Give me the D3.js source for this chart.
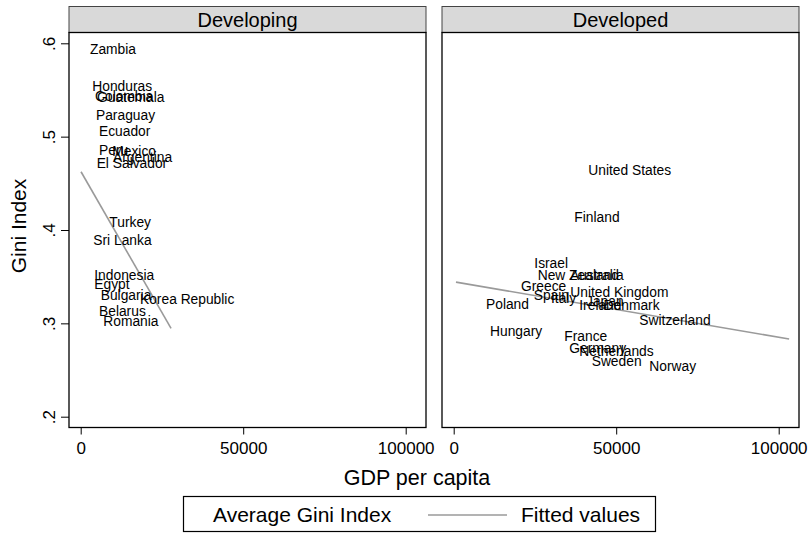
<!DOCTYPE html>
<html>
<head>
<meta charset="utf-8">
<script src="https://cdn.jsdelivr.net/npm/d3@7"></script>
<style>
  html, body { margin: 0; padding: 0; background: #ffffff; }
  svg { display: block; }
  text { font-family: "Liberation Sans", Arial, sans-serif; fill: #000; }
</style>
</head>
<body>
<svg id="chart" width="808" height="535"></svg>
<script>
// Developing countries: GDP per capita and average Gini index
const developingCountries = ["Zambia", "Honduras", "Colombia", "Guatemala", "Paraguay", "Ecuador", "Peru", "Mexico", "Argentina", "El Salvador", "Turkey", "Sri Lanka", "Indonesia", "Egypt", "Bulgaria", "Korea Republic", "Belarus", "Romania"];
const developingGdp = [1940, 2650, 3480, 4090, 3780, 4710, 4710, 8800, 9020, 3990, 7880, 2950, 3260, 3260, 5230, 17320, 4710, 6030];
const developingGini = [0.594, 0.5537, 0.543, 0.542, 0.5226, 0.5057, 0.486, 0.4846, 0.4782, 0.4714, 0.4085, 0.3887, 0.3512, 0.3421, 0.330, 0.3257, 0.3129, 0.3025];

// Developed countries
const developedCountries = ["United States", "Finland", "Israel", "New Zealand", "Australia", "Greece", "United Kingdom", "Spain", "Italy", "Poland", "Japan", "Ireland", "Denmark", "Switzerland", "Hungary", "France", "Germany", "Netherlands", "Sweden", "Norway"];
const developedGdp = [40490, 36190, 23880, 24920, 34860, 19780, 34950, 23690, 29010, 9020, 39780, 37720, 45200, 56190, 10250, 33110, 34650, 37720, 41540, 59260];
const developedGini = [0.4642, 0.4136, 0.3643, 0.3514, 0.3514, 0.3396, 0.3333, 0.330, 0.327, 0.3207, 0.324, 0.3193, 0.3193, 0.3035, 0.2914, 0.2858, 0.2735, 0.270, 0.2591, 0.2537];

// Linear fit endpoints per group
const developingFitGdp = [100, 27800];
const developingFitGini = [0.4624, 0.2946];
const developedFitGdp = [700, 103200];
const developedFitGini = [0.3442, 0.2832];

// Axis ticks and text
const yTicks = [0.2, 0.3, 0.4, 0.5, 0.6];
const xTicks = [0, 50000, 100000];
const panelTitles = ["Developing", "Developed"];
const xTitle = "GDP per capita";
const yTitle = "Gini Index";
const legendLabels = ["Average Gini Index", "Fitted values"];

const svg = d3.select("#chart");
const font = '"Liberation Sans", Arial, sans-serif';

const plotTop = 32.5, plotBottom = 427.5;
const panels = [
  { title: panelTitles[0], left: 69, right: 426, names: developingCountries, gdp: developingGdp, gini: developingGini, fitX: developingFitGdp, fitY: developingFitGini },
  { title: panelTitles[1], left: 442, right: 799, names: developedCountries, gdp: developedGdp, gini: developedGini, fitX: developedFitGdp, fitY: developedFitGini }
];

// shared y scale: .6 at 43.3, .2 at 416.7
const y = d3.scaleLinear().domain([0.2, 0.6]).range([416.7, 43.3]);

panels.forEach((p, i) => {
  // x scale: 0 sits 11.7px inside the panel, 100000 is 325px further right
  const x = d3.scaleLinear().domain([0, 100000]).range([p.left + 11.7, p.left + 336.7]);
  const g = svg.append("g");

  // strip header
  g.append("rect")
    .attr("x", p.left).attr("y", 6.5)
    .attr("width", p.right - p.left).attr("height", plotTop - 6.5)
    .attr("fill", "#d9d9d9").attr("stroke", "#444").attr("stroke-width", 1);
  g.append("text")
    .attr("x", (p.left + p.right) / 2).attr("y", 19.5)
    .attr("dy", "0.35em")
    .attr("text-anchor", "middle")
    .style("font-size", "20px")
    .text(p.title);

  // plot frame
  g.append("rect")
    .attr("x", p.left).attr("y", plotTop)
    .attr("width", p.right - p.left).attr("height", plotBottom - plotTop)
    .attr("fill", "#fff").attr("stroke", "#000").attr("stroke-width", 1.3);

  // x axis
  const xAxis = d3.axisBottom(x).tickValues(xTicks).tickFormat(d3.format("d")).tickSize(7).tickPadding(7);
  const xa = g.append("g").attr("transform", `translate(0,${plotBottom})`).call(xAxis);
  xa.select(".domain").remove();
  xa.selectAll(".tick line").attr("stroke", "#000").attr("stroke-width", 1);
  xa.selectAll(".tick text").style("font-family", font).style("font-size", "17px").attr("fill", "#000");

  // y axis on the first panel only
  if (i === 0) {
    const yAxis = d3.axisLeft(y).tickValues(yTicks).tickFormat(d => d3.format(".1f")(d).replace(/^0/, "")).tickSize(8).tickPadding(0);
    const ya = g.append("g").attr("transform", `translate(${p.left},0)`).call(yAxis);
    ya.select(".domain").remove();
    ya.selectAll(".tick line").attr("stroke", "#000").attr("stroke-width", 1);
    ya.selectAll(".tick text")
      .style("font-family", font).style("font-size", "17px").attr("fill", "#000")
      .attr("x", null).attr("dy", null)
      .attr("text-anchor", "middle")
      .attr("transform", "translate(-14,0) rotate(-90)");
  }

  // fitted line
  const line = d3.line().x(d => x(d[0])).y(d => y(d[1]));
  g.append("path")
    .datum(p.fitX.map((v, k) => [v, p.fitY[k]]))
    .attr("d", line)
    .attr("fill", "none").attr("stroke", "#9a9a9a").attr("stroke-width", 1.6);

  // country labels placed to the right of each (invisible) marker
  g.selectAll("text.country")
    .data(p.names.map((n, k) => ({ name: n, gdp: p.gdp[k], gini: p.gini[k] })))
    .join("text")
    .attr("class", "country")
    .attr("x", d => x(d.gdp) + 3)
    .attr("y", d => y(d.gini))
    .attr("dy", "0.35em")
    .style("font-size", "13.8px")
    .text(d => d.name);
});

// axis titles
svg.append("text")
  .attr("x", 417).attr("y", 477).attr("dy", "0.35em")
  .attr("text-anchor", "middle")
  .style("font-size", "21.5px")
  .text(xTitle);
svg.append("text")
  .attr("transform", "translate(26,226) rotate(-90)")
  .attr("text-anchor", "middle")
  .style("font-size", "21px")
  .text(yTitle);

// legend
const lg = svg.append("g");
lg.append("rect")
  .attr("x", 183.5).attr("y", 496.5).attr("width", 472).attr("height", 35)
  .attr("fill", "#fff").attr("stroke", "#000").attr("stroke-width", 1.2);
lg.append("text")
  .attr("x", 213).attr("y", 515).attr("dy", "0.35em")
  .style("font-size", "21px")
  .text(legendLabels[0]);
lg.append("line")
  .attr("x1", 428).attr("x2", 507).attr("y1", 515).attr("y2", 515)
  .attr("stroke", "#9a9a9a").attr("stroke-width", 1.6);
lg.append("text")
  .attr("x", 521).attr("y", 515).attr("dy", "0.35em")
  .style("font-size", "21px")
  .text(legendLabels[1]);
</script>
</body>
</html>
